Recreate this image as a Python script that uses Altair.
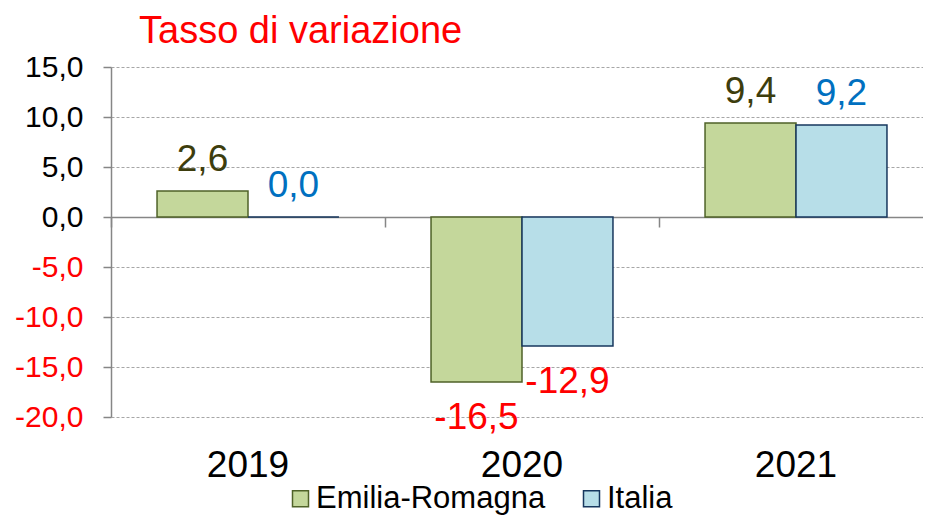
import altair as alt
import pandas as pd

# ---- data ----
years = ["2019", "2020", "2021"]
series = ["Emilia-Romagna", "Italia"]
emilia_romagna = [2.6, -16.5, 9.4]
italia = [0.0, -12.9, 9.2]
y_ticks = [-20, -15, -10, -5, 0, 5, 10, 15]
title_text = "Tasso di variazione"

fill_colors = ["#c4d79b", "#b7dee8"]
stroke_colors = ["#4f6228", "#17375e"]

rows = []
for i, yr in enumerate(years):
    rows.append({"year": yr, "series": series[0], "value": emilia_romagna[i]})
    rows.append({"year": yr, "series": series[1], "value": italia[i]})
df = pd.DataFrame(rows)

FONT = "Liberation Sans"
FMT = "replace(replace(format(datum.value, '.1f'), '.', ','), '\u2212', '-')"

y_scale = alt.Scale(domain=[-20, 15], nice=False, zero=False)

x_labels = alt.X(
    "year:N",
    sort=years,
    scale=alt.Scale(paddingInner=0, paddingOuter=0),
    axis=alt.Axis(
        title=None, orient="bottom", domain=False, ticks=False, grid=False,
        labelAngle=0, labelFontSize=37, labelFont=FONT, labelColor="#000000",
        labelPadding=30, labelBaseline="top",
    ),
)
x_noaxis = alt.X("year:N", sort=years, axis=None)
x_zero = alt.X(
    "year:N",
    sort=years,
    axis=alt.Axis(
        title=None, orient="bottom", offset=-200, labels=False, grid=False,
        domain=True, domainColor="#868686", domainWidth=1.5,
        ticks=True, tickColor="#868686", tickWidth=1.5, tickSize=10,
        bandPosition=0,
    ),
)
xoff = alt.XOffset(
    "series:N",
    sort=series,
    scale=alt.Scale(domain=series, paddingInner=0, paddingOuter=0.506),
)

y_enc = alt.Y(
    "value:Q",
    scale=y_scale,
    axis=alt.Axis(
        title=None, values=y_ticks,
        grid=True, gridColor="#a6a6a6", gridDash=[3, 2], gridWidth=1,
        domainColor="#868686", domainWidth=1.5,
        tickColor="#868686", tickWidth=1.5, tickSize=8,
        labelFontSize=30, labelFont=FONT, labelPadding=20,
        labelExpr=FMT,
        labelColor={"condition": {"test": "datum.value < 0", "value": "#ff0000"}, "value": "#000000"},
    ),
)
y_plain = alt.Y("value:Q", scale=y_scale)

legend = alt.Legend(
    title=None, orient="none", legendX=174, legendY=416, direction="horizontal",
    symbolType="square", symbolSize=256, symbolStrokeWidth=1.5,
    labelFontSize=31, labelFont=FONT, labelColor="#000000", labelOffset=0,
    labelLimit=400, columnPadding=30,
)

bars = alt.Chart(df).mark_bar(strokeWidth=1.5).encode(
    x=x_labels,
    xOffset=xoff,
    y=y_enc,
    fill=alt.Fill("series:N", sort=series,
                  scale=alt.Scale(domain=series, range=fill_colors), legend=legend),
    stroke=alt.Stroke("series:N", sort=series,
                      scale=alt.Scale(domain=series, range=stroke_colors), legend=legend),
)

pos_labels = alt.Chart(df).transform_filter("datum.value >= 0").transform_calculate(
    lab=FMT
).mark_text(fontSize=37, font=FONT, baseline="alphabetic", align="center", dy=-20).encode(
    x=x_noaxis,
    xOffset=xoff,
    y=y_plain,
    text="lab:N",
    color=alt.condition("datum.series == 'Italia'", alt.value("#0070c0"), alt.value("#3d3d0d")),
)

neg_labels = alt.Chart(df).transform_filter("datum.value < 0").transform_calculate(
    lab=FMT
).mark_text(fontSize=37, font=FONT, baseline="alphabetic", align="center", dy=47,
            color="#ff0000").encode(
    x=x_zero,
    xOffset=xoff,
    y=y_plain,
    text="lab:N",
)

title = alt.Chart(pd.DataFrame({"t": [title_text]})).mark_text(
    fontSize=38, font=FONT, color="#ff0000", align="left", baseline="alphabetic"
).encode(
    x=alt.value(28),
    y=alt.value(-24),
    text="t:N",
)

chart = alt.layer(bars, pos_labels, neg_labels, title).resolve_axis(
    x="independent"
).properties(
    width=822,
    height=350,
    autosize=alt.AutoSizeParams(type="none"),
    padding={"left": 103, "top": 59, "right": -10, "bottom": 100},
).configure_view(stroke=None)

chart.save("out.html", embed_options={"renderer": "svg", "actions": False})
